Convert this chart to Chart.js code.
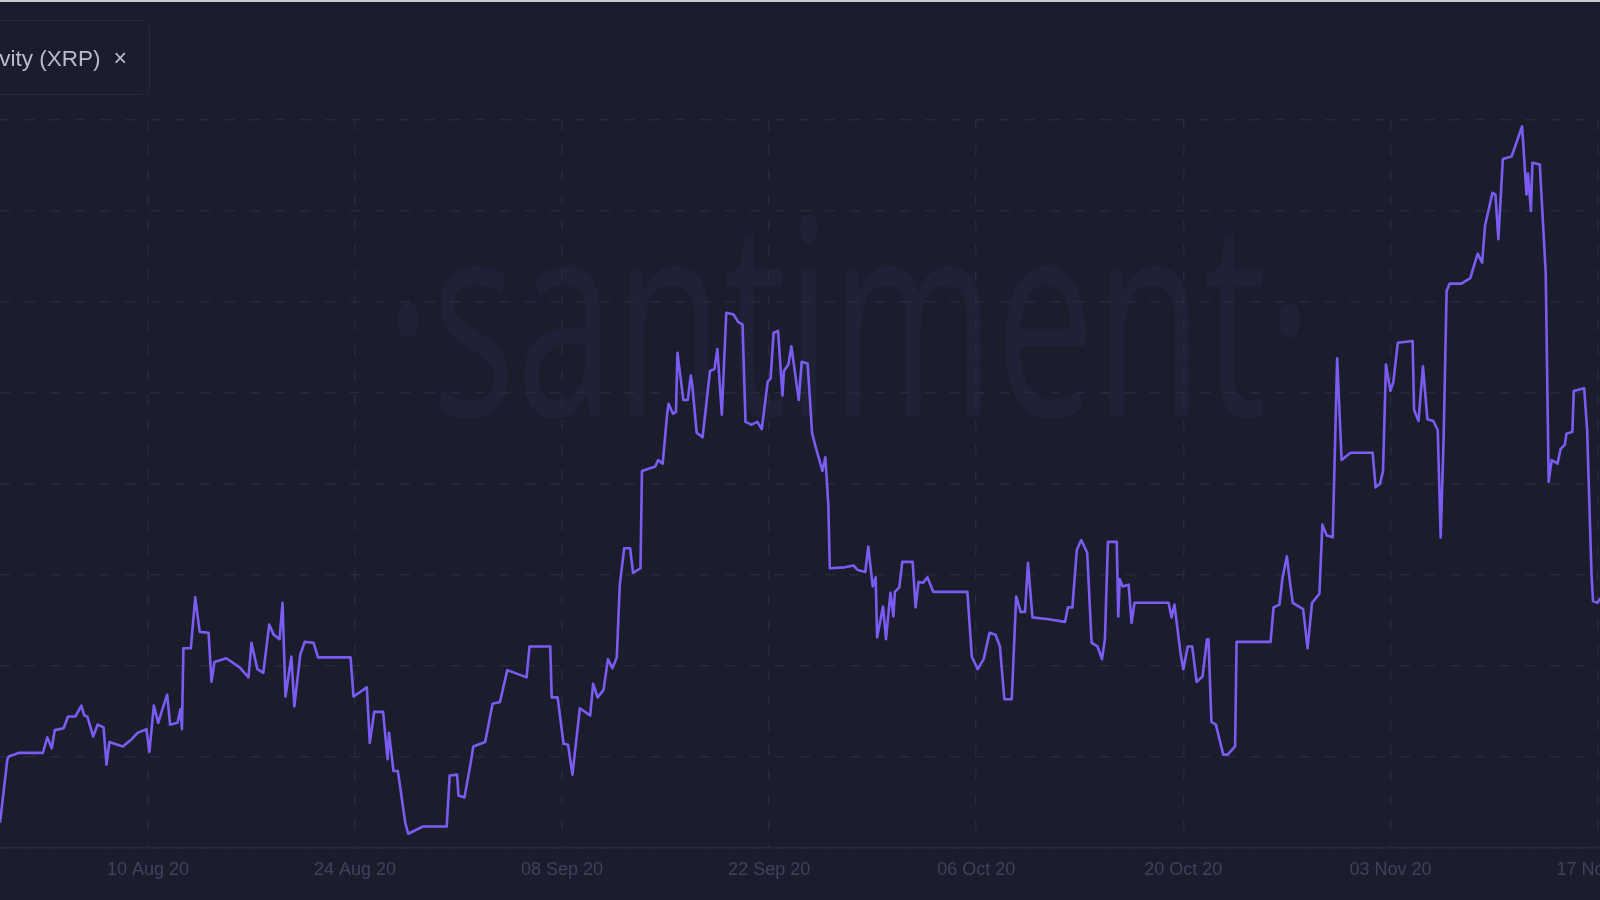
<!DOCTYPE html>
<html>
<head>
<meta charset="utf-8">
<title>Development Activity (XRP)</title>
<script src="https://cdn.jsdelivr.net/npm/chart.js@4.4.0/dist/chart.umd.min.js"></script>
<style>
  html, body { margin: 0; padding: 0; width: 1600px; height: 900px; overflow: hidden; background: #1b1d2d; }
  #wrap { position: absolute; left: -100px; top: 0; width: 1800px; height: 900px; }
  #topline { position: absolute; left: 0; top: 0; width: 1600px; height: 2px; background: #c9cad0; }
  #legend {
    position: absolute; right: 1450px; top: 20px; height: 75px; box-sizing: border-box;
    border: 1.5px solid #262a3d; border-radius: 8px;
    display: flex; align-items: center; padding: 2px 22px 0 24px; white-space: nowrap;
    font: 22.5px "Liberation Sans", Arial, sans-serif; color: #b9bccb;
  }
  #legend .x { margin-left: 13px; font-size: 23px; }
</style>
</head>
<body>
<div id="wrap"><canvas id="chart" width="1800" height="900"></canvas></div>
<div id="topline"></div>
<div id="legend"><span>Development Activity (XRP)</span><span class="x">×</span></div>
<script>
// x = days since 10 Aug 2020, y = activity (grid step 10)
const tickDays = [0, 14, 28, 42, 56, 70, 84, 98];
const tickLabels = ['10 Aug 20', '24 Aug 20', '08 Sep 20', '22 Sep 20', '06 Oct 20', '20 Oct 20', '03 Nov 20', '17 Nov 20'];

const days = [
  -10.0, -9.5, -9.4, -8.7, -7.1, -6.8, -6.5, -6.3, -5.7, -5.4,
  -4.9, -4.5, -4.3, -4.1, -3.7, -3.4, -3.0, -2.8, -2.6, -1.7,
  -1.1, -0.7, -0.1, 0.1, 0.4, 0.7, 0.9, 1.3, 1.5, 2.0,
  2.2, 2.3, 2.4, 2.9, 3.2, 3.5, 4.1, 4.3, 4.5, 5.3,
  6.2, 6.8, 7.0, 7.4, 7.8, 8.2, 8.5, 8.9, 9.1, 9.3,
  9.7, 9.9, 10.3, 10.6, 11.2, 11.5, 13.7, 13.9, 14.8, 15.0,
  15.3, 15.9, 16.2, 16.3, 16.6, 16.9, 17.4, 17.6, 18.6, 20.2,
  20.4, 20.9, 21.0, 21.4, 21.8, 22.0, 22.8, 23.3, 23.8, 24.3,
  25.6, 25.8, 27.2, 27.3, 27.7, 28.1, 28.4, 28.7, 29.2, 29.9,
  30.1, 30.4, 30.8, 31.1, 31.4, 31.7, 31.9, 32.2, 32.6, 32.8,
  33.3, 33.4, 34.3, 34.5, 34.8, 35.1, 35.2, 35.5, 35.7, 35.8,
  36.2, 36.5, 36.7, 36.8, 37.1, 37.5, 38.0, 38.3, 38.5, 38.8,
  39.1, 39.6, 39.9, 40.2, 40.4, 40.8, 41.2, 41.5, 41.9, 42.1,
  42.3, 42.6, 42.9, 43.0, 43.3, 43.5, 43.9, 44.0, 44.2, 44.6,
  44.9, 45.1, 45.6, 45.8, 46.0, 46.1, 47.1, 47.7, 48.0, 48.5,
  48.7, 49.0, 49.2, 49.3, 49.7, 49.9, 50.2, 50.4, 50.5, 50.8,
  51.0, 51.7, 51.9, 52.1, 52.4, 52.7, 53.1, 55.4, 55.7, 56.1,
  56.5, 56.9, 57.3, 57.6, 57.9, 58.4, 58.7, 59.0, 59.3, 59.5,
  59.8, 60.9, 62.0, 62.2, 62.5, 62.8, 63.1, 63.5, 63.8, 64.2,
  64.5, 64.7, 64.9, 65.5, 65.6, 65.7, 65.9, 66.3, 66.5, 66.7,
  69.0, 69.2, 69.4, 69.8, 70.0, 70.3, 70.6, 70.9, 71.3, 71.6,
  71.7, 71.9, 72.2, 72.7, 73.0, 73.5, 73.6, 75.9, 76.1, 76.5,
  76.7, 77.0, 77.2, 77.4, 78.1, 78.4, 78.7, 79.2, 79.4, 79.7,
  80.1, 80.4, 80.7, 81.3, 82.8, 83.0, 83.3, 83.5, 83.7, 84.0,
  84.2, 84.5, 85.5, 85.6, 85.9, 86.2, 86.5, 86.9, 87.2, 87.4,
  87.6, 87.8, 88.0, 88.8, 89.4, 89.9, 90.2, 90.4, 90.9, 91.1,
  91.3, 91.6, 92.2, 92.6, 92.9, 93.0, 93.2, 93.3, 93.5, 93.6,
  94.1, 94.5, 94.7, 94.9, 95.3, 95.5, 95.8, 95.9, 96.3, 96.4,
  97.1, 97.3, 97.6, 97.7, 98.0, 98.2
];

const activity = [
  2.7, 9.7, 10.0, 10.4, 10.4, 12.1, 10.9, 12.9, 13.1, 14.4,
  14.4, 15.6, 14.5, 14.4, 12.2, 13.5, 13.2, 9.1, 11.6, 11.1,
  11.9, 12.6, 13.0, 10.5, 15.6, 13.7, 14.8, 16.8, 13.5, 13.7,
  15.2, 13.0, 21.9, 21.9, 27.5, 23.7, 23.6, 18.2, 20.4, 20.8,
  19.8, 18.7, 22.5, 19.6, 19.2, 24.5, 23.4, 22.9, 26.9, 16.6,
  21.0, 15.5, 21.2, 22.6, 22.5, 20.9, 20.9, 16.6, 17.6, 11.5,
  14.9, 14.9, 9.7, 12.6, 8.4, 8.4, 2.7, 1.5, 2.3, 2.3,
  7.9, 8.0, 5.7, 5.5, 9.1, 11.1, 11.6, 15.8, 16.0, 19.5,
  18.7, 22.1, 22.1, 16.5, 16.5, 11.4, 11.3, 8.0, 15.3, 14.5,
  18.0, 16.5, 17.3, 20.7, 19.7, 20.9, 28.9, 32.9, 32.9, 30.2,
  30.7, 41.4, 41.9, 42.6, 42.2, 47.6, 48.8, 47.7, 47.9, 54.4,
  49.2, 49.2, 51.9, 50.9, 45.6, 45.1, 52.4, 52.6, 54.8, 47.6,
  58.8, 58.6, 57.8, 57.5, 46.8, 46.5, 46.8, 46.0, 51.2, 51.6,
  56.6, 56.8, 49.7, 52.4, 53.1, 55.1, 50.4, 49.2, 53.4, 53.2,
  45.6, 44.3, 41.4, 42.9, 37.7, 30.7, 30.8, 31.0, 30.5, 30.3,
  33.1, 28.7, 29.7, 23.1, 26.5, 22.9, 28.0, 25.4, 28.1, 28.6,
  31.4, 31.4, 26.4, 29.2, 29.1, 29.7, 28.1, 28.1, 21.0, 19.6,
  20.7, 23.6, 23.4, 22.1, 16.3, 16.3, 27.6, 25.9, 25.9, 31.3,
  25.3, 25.1, 24.8, 26.4, 26.4, 32.7, 33.8, 32.4, 22.5, 22.1,
  20.7, 22.9, 33.6, 33.6, 25.4, 29.5, 28.7, 28.9, 24.7, 26.9,
  26.9, 25.3, 26.7, 21.5, 19.6, 22.1, 22.1, 18.2, 18.8, 22.9,
  22.9, 13.8, 13.5, 10.2, 10.2, 11.1, 22.6, 22.6, 26.4, 26.7,
  29.6, 32.0, 29.3, 26.9, 26.2, 21.9, 26.9, 27.9, 35.5, 34.3,
  34.1, 53.8, 42.6, 43.4, 43.4, 39.6, 40.0, 41.4, 53.1, 50.2,
  51.2, 55.5, 55.7, 48.1, 46.9, 52.9, 47.1, 46.9, 45.9, 34.1,
  45.1, 61.2, 62.0, 62.0, 62.6, 65.3, 64.3, 68.4, 72.0, 71.8,
  66.9, 75.7, 76.0, 77.9, 79.3, 76.9, 71.8, 74.1, 70.0, 75.3,
  75.1, 63.2, 40.2, 42.6, 42.2, 43.8, 44.3, 45.5, 45.7, 50.2,
  50.5, 45.9, 29.8, 27.1, 26.9, 27.4
];

const gridColor = '#272a3d';
const labelColor = '#3e425d';

// faint brand watermark behind the grid
const watermark = {
  id: 'watermark',
  beforeDraw(chart) {
    const ctx = chart.ctx;
    const area = chart.chartArea;
    const txt = '\u00b7santiment\u00b7';
    ctx.save();
    ctx.font = '275px "Open Sans", sans-serif';
    const w = ctx.measureText(txt).width;
    ctx.translate(area.left + 385, 416);
    ctx.scale(928 / w, 1);
    ctx.fillStyle = '#1f2236';
    ctx.textBaseline = 'alphabetic';
    ctx.fillText(txt, 0, 0);
    ctx.restore();
  }
};

const ctx = document.getElementById('chart').getContext('2d');
const chart = new Chart(ctx, {
  type: 'line',
  data: {
    datasets: [{
      label: 'Development Activity (XRP)',
      data: days.map((d, i) => ({ x: d, y: activity[i] })),
      borderColor: '#7b5cf2',
      borderWidth: 2.6,
      pointRadius: 0,
      tension: 0,
      borderJoinStyle: 'round',
      fill: false
    }]
  },
  options: {
    responsive: false,
    animation: false,
    devicePixelRatio: 1,
    layout: { padding: { left: 100, right: 100, top: 120, bottom: 7 } },
    plugins: { legend: { display: false }, tooltip: { enabled: false } },
    scales: {
      x: {
        type: 'linear',
        min: -10.0,
        max: 98.17,
        afterBuildTicks: (scale) => { scale.ticks = tickDays.map(v => ({ value: v })); },
        ticks: {
          color: labelColor,
          autoSkip: false,
          maxRotation: 0,
          padding: 12,
          font: { family: '"Liberation Sans", Arial, sans-serif', size: 18 },
          callback: (value) => tickLabels[tickDays.indexOf(value)]
        },
        grid: { color: gridColor, lineWidth: 1.5, drawTicks: false },
        border: { display: true, color: '#262a3c', width: 1.5, dash: [10, 15] }
      },
      y: {
        min: 0,
        max: 80,
        ticks: { display: false, stepSize: 10 },
        grid: { color: gridColor, lineWidth: 1.5, drawTicks: false },
        border: { display: false, dash: [10, 15] }
      }
    }
  },
  plugins: [watermark]
});
</script>
</body>
</html>
